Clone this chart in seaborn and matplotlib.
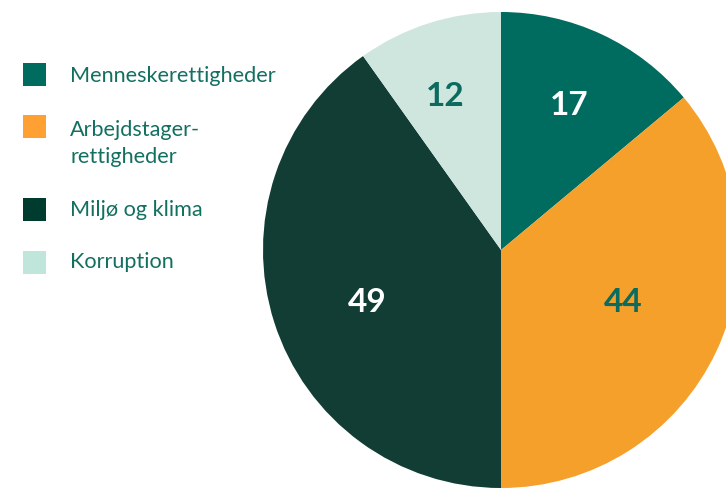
import numpy as np
import matplotlib
matplotlib.use("Agg")
import matplotlib.pyplot as plt
from matplotlib.patches import Rectangle
import seaborn as sns

categories = ["Menneskerettigheder", "Arbejdstager-\nrettigheder", "Miljø og klima", "Korruption"]
values = [17, 44, 49, 12]

pie_colors = ["#006b5f", "#f5a02a", "#113d34", "#cfe6df"]
legend_colors = ["#006b5f", "#ffa033", "#003b30", "#c0e6dc"]
label_colors = ["white", "#0b6b5e", "white", "#0b6b5e"]
label_radius = [0.68, 0.555, 0.60, 0.695]
label_angle_shift = [0.0, 2.8, 2.8, 2.1]   # degrees, counter-clockwise positive

sns.set_theme(style="white")
plt.rcParams['font.family'] = ['Lato', 'DejaVu Sans']

W, H = 726, 488
fig = plt.figure(figsize=(W / 100, H / 100), dpi=100)
fig.patch.set_facecolor("white")

# pie axes: center (501, 250) px from top, radius 238
cx, cy, R = 501, 250, 238
ax = fig.add_axes([(cx - R) / W, (H - cy - R) / H, 2 * R / W, 2 * R / H])
wedges, _ = ax.pie(values, colors=pie_colors, startangle=90, counterclock=False,
                   radius=1, wedgeprops=dict(linewidth=0))
ax.set_xlim(-1, 1)
ax.set_ylim(-1, 1)
ax.set_aspect("equal")
ax.axis("off")

for w, v, c, r, s in zip(wedges, values, label_colors, label_radius, label_angle_shift):
    mid = np.deg2rad((w.theta1 + w.theta2) / 2 + s)
    ax.text(r * np.cos(mid), r * np.sin(mid), str(v), ha="center",
            va="center_baseline", fontsize=24, fontweight="bold", color=c)

# legend
sq_tops = [63, 115, 198, 251]
baselines = [82, 136, 216, 268]
line_step = 27
for lab, col, t, b in zip(categories, legend_colors, sq_tops, baselines):
    fig.patches.append(Rectangle((23 / W, (H - t - 23) / H), 23 / W, 23 / H,
                                 transform=fig.transFigure, facecolor=col,
                                 edgecolor="none"))
    for i, line in enumerate(lab.split("\n")):
        fig.text(70 / W, (H - b - i * line_step) / H, line, ha="left",
                 va="baseline", fontsize=15.6, color="#137061")

fig.savefig("out.png", dpi=100, facecolor="white")
